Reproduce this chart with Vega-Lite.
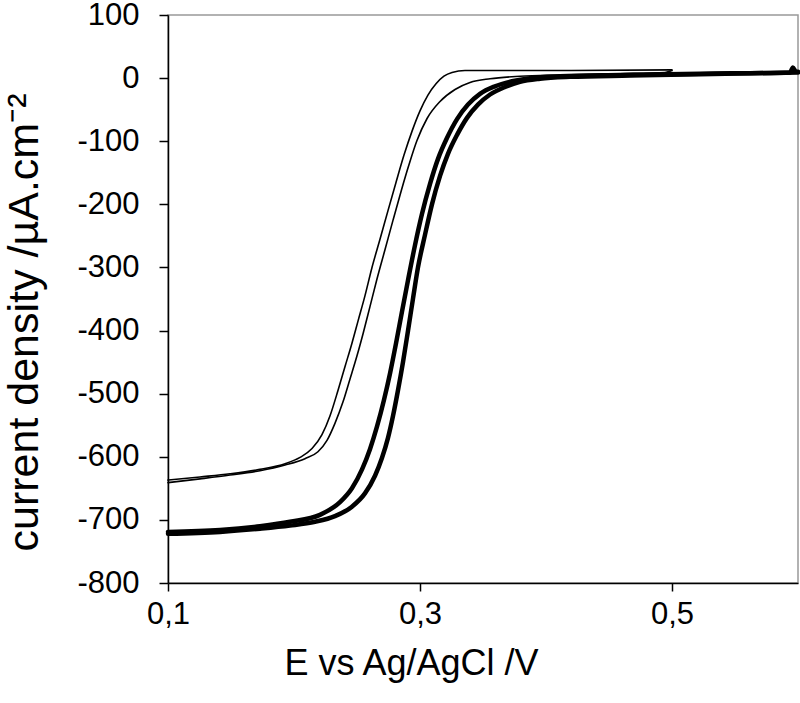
{
  "$schema": "https://vega.github.io/schema/vega-lite/v6.json",
  "width": 630,
  "height": 568,
  "autosize": {"type": "none"},
  "padding": {"left": 168, "top": 15, "right": 2, "bottom": 120},
  "background": "white",
  "config": {
    "view": {"stroke": "#999999", "strokeWidth": 1.5},
    "font": "Liberation Sans"
  },
  "datasets": {
    "curves": [
      {"electrode": "thin", "scan": "A", "E": 0.1000, "j": -637},
      {"electrode": "thin", "scan": "A", "E": 0.1254, "j": -632},
      {"electrode": "thin", "scan": "A", "E": 0.1492, "j": -627},
      {"electrode": "thin", "scan": "A", "E": 0.1730, "j": -620},
      {"electrode": "thin", "scan": "A", "E": 0.1929, "j": -611},
      {"electrode": "thin", "scan": "A", "E": 0.2048, "j": -601},
      {"electrode": "thin", "scan": "A", "E": 0.2143, "j": -587},
      {"electrode": "thin", "scan": "A", "E": 0.2222, "j": -565},
      {"electrode": "thin", "scan": "A", "E": 0.2286, "j": -535},
      {"electrode": "thin", "scan": "A", "E": 0.2349, "j": -495},
      {"electrode": "thin", "scan": "A", "E": 0.2405, "j": -457},
      {"electrode": "thin", "scan": "A", "E": 0.2460, "j": -420},
      {"electrode": "thin", "scan": "A", "E": 0.2508, "j": -385},
      {"electrode": "thin", "scan": "A", "E": 0.2563, "j": -345},
      {"electrode": "thin", "scan": "A", "E": 0.2619, "j": -300},
      {"electrode": "thin", "scan": "A", "E": 0.2683, "j": -255},
      {"electrode": "thin", "scan": "A", "E": 0.2746, "j": -210},
      {"electrode": "thin", "scan": "A", "E": 0.2810, "j": -165},
      {"electrode": "thin", "scan": "A", "E": 0.2873, "j": -122},
      {"electrode": "thin", "scan": "A", "E": 0.2937, "j": -84},
      {"electrode": "thin", "scan": "A", "E": 0.3000, "j": -52},
      {"electrode": "thin", "scan": "A", "E": 0.3063, "j": -27},
      {"electrode": "thin", "scan": "A", "E": 0.3127, "j": -9},
      {"electrode": "thin", "scan": "A", "E": 0.3190, "j": 3},
      {"electrode": "thin", "scan": "A", "E": 0.3254, "j": 9},
      {"electrode": "thin", "scan": "A", "E": 0.3357, "j": 12},
      {"electrode": "thin", "scan": "A", "E": 0.4200, "j": 12},
      {"electrode": "thin", "scan": "A", "E": 0.5000, "j": 13},

      {"electrode": "thin", "scan": "B", "E": 0.1000, "j": -641},
      {"electrode": "thin", "scan": "B", "E": 0.1254, "j": -635},
      {"electrode": "thin", "scan": "B", "E": 0.1492, "j": -629},
      {"electrode": "thin", "scan": "B", "E": 0.1730, "j": -622},
      {"electrode": "thin", "scan": "B", "E": 0.1929, "j": -613},
      {"electrode": "thin", "scan": "B", "E": 0.2087, "j": -603},
      {"electrode": "thin", "scan": "B", "E": 0.2190, "j": -592},
      {"electrode": "thin", "scan": "B", "E": 0.2262, "j": -574},
      {"electrode": "thin", "scan": "B", "E": 0.2325, "j": -547},
      {"electrode": "thin", "scan": "B", "E": 0.2389, "j": -513},
      {"electrode": "thin", "scan": "B", "E": 0.2444, "j": -477},
      {"electrode": "thin", "scan": "B", "E": 0.2500, "j": -440},
      {"electrode": "thin", "scan": "B", "E": 0.2548, "j": -405},
      {"electrode": "thin", "scan": "B", "E": 0.2603, "j": -362},
      {"electrode": "thin", "scan": "B", "E": 0.2659, "j": -318},
      {"electrode": "thin", "scan": "B", "E": 0.2722, "j": -272},
      {"electrode": "thin", "scan": "B", "E": 0.2786, "j": -225},
      {"electrode": "thin", "scan": "B", "E": 0.2849, "j": -180},
      {"electrode": "thin", "scan": "B", "E": 0.2913, "j": -137},
      {"electrode": "thin", "scan": "B", "E": 0.2976, "j": -99},
      {"electrode": "thin", "scan": "B", "E": 0.3056, "j": -64},
      {"electrode": "thin", "scan": "B", "E": 0.3159, "j": -37},
      {"electrode": "thin", "scan": "B", "E": 0.3278, "j": -18},
      {"electrode": "thin", "scan": "B", "E": 0.3397, "j": -7},
      {"electrode": "thin", "scan": "B", "E": 0.3556, "j": -1},
      {"electrode": "thin", "scan": "B", "E": 0.3794, "j": 3},
      {"electrode": "thin", "scan": "B", "E": 0.4111, "j": 5},
      {"electrode": "thin", "scan": "B", "E": 0.4587, "j": 7},
      {"electrode": "thin", "scan": "B", "E": 0.4944, "j": 9},
      {"electrode": "thin", "scan": "B", "E": 0.5000, "j": 12},

      {"electrode": "thick", "scan": "C", "E": 0.1000, "j": -719},
      {"electrode": "thick", "scan": "C", "E": 0.1413, "j": -716},
      {"electrode": "thick", "scan": "C", "E": 0.1730, "j": -710},
      {"electrode": "thick", "scan": "C", "E": 0.1968, "j": -703},
      {"electrode": "thick", "scan": "C", "E": 0.2206, "j": -692},
      {"electrode": "thick", "scan": "C", "E": 0.2365, "j": -672},
      {"electrode": "thick", "scan": "C", "E": 0.2460, "j": -650},
      {"electrode": "thick", "scan": "C", "E": 0.2540, "j": -620},
      {"electrode": "thick", "scan": "C", "E": 0.2603, "j": -588},
      {"electrode": "thick", "scan": "C", "E": 0.2659, "j": -552},
      {"electrode": "thick", "scan": "C", "E": 0.2714, "j": -510},
      {"electrode": "thick", "scan": "C", "E": 0.2762, "j": -468},
      {"electrode": "thick", "scan": "C", "E": 0.2810, "j": -420},
      {"electrode": "thick", "scan": "C", "E": 0.2857, "j": -370},
      {"electrode": "thick", "scan": "C", "E": 0.2905, "j": -320},
      {"electrode": "thick", "scan": "C", "E": 0.2960, "j": -265},
      {"electrode": "thick", "scan": "C", "E": 0.3016, "j": -215},
      {"electrode": "thick", "scan": "C", "E": 0.3079, "j": -168},
      {"electrode": "thick", "scan": "C", "E": 0.3143, "j": -128},
      {"electrode": "thick", "scan": "C", "E": 0.3214, "j": -95},
      {"electrode": "thick", "scan": "C", "E": 0.3294, "j": -65},
      {"electrode": "thick", "scan": "C", "E": 0.3381, "j": -42},
      {"electrode": "thick", "scan": "C", "E": 0.3476, "j": -25},
      {"electrode": "thick", "scan": "C", "E": 0.3595, "j": -13},
      {"electrode": "thick", "scan": "C", "E": 0.3730, "j": -5},
      {"electrode": "thick", "scan": "C", "E": 0.3873, "j": 0},
      {"electrode": "thick", "scan": "C", "E": 0.4111, "j": 3},
      {"electrode": "thick", "scan": "C", "E": 0.4587, "j": 5},
      {"electrode": "thick", "scan": "C", "E": 0.5222, "j": 7},
      {"electrode": "thick", "scan": "C", "E": 0.5937, "j": 9},
      {"electrode": "thick", "scan": "C", "E": 0.5960, "j": 17},
      {"electrode": "thick", "scan": "C", "E": 0.5984, "j": 10},
      {"electrode": "thick", "scan": "C", "E": 0.6000, "j": 10},

      {"electrode": "thick", "scan": "D", "E": 0.1000, "j": -722},
      {"electrode": "thick", "scan": "D", "E": 0.1413, "j": -719},
      {"electrode": "thick", "scan": "D", "E": 0.1730, "j": -714},
      {"electrode": "thick", "scan": "D", "E": 0.1968, "j": -709},
      {"electrode": "thick", "scan": "D", "E": 0.2167, "j": -703},
      {"electrode": "thick", "scan": "D", "E": 0.2325, "j": -694},
      {"electrode": "thick", "scan": "D", "E": 0.2460, "j": -679},
      {"electrode": "thick", "scan": "D", "E": 0.2563, "j": -658},
      {"electrode": "thick", "scan": "D", "E": 0.2643, "j": -630},
      {"electrode": "thick", "scan": "D", "E": 0.2698, "j": -602},
      {"electrode": "thick", "scan": "D", "E": 0.2746, "j": -570},
      {"electrode": "thick", "scan": "D", "E": 0.2786, "j": -535},
      {"electrode": "thick", "scan": "D", "E": 0.2825, "j": -495},
      {"electrode": "thick", "scan": "D", "E": 0.2865, "j": -450},
      {"electrode": "thick", "scan": "D", "E": 0.2905, "j": -400},
      {"electrode": "thick", "scan": "D", "E": 0.2944, "j": -350},
      {"electrode": "thick", "scan": "D", "E": 0.2984, "j": -300},
      {"electrode": "thick", "scan": "D", "E": 0.3040, "j": -248},
      {"electrode": "thick", "scan": "D", "E": 0.3095, "j": -200},
      {"electrode": "thick", "scan": "D", "E": 0.3159, "j": -155},
      {"electrode": "thick", "scan": "D", "E": 0.3222, "j": -120},
      {"electrode": "thick", "scan": "D", "E": 0.3294, "j": -90},
      {"electrode": "thick", "scan": "D", "E": 0.3373, "j": -63},
      {"electrode": "thick", "scan": "D", "E": 0.3460, "j": -42},
      {"electrode": "thick", "scan": "D", "E": 0.3556, "j": -26},
      {"electrode": "thick", "scan": "D", "E": 0.3675, "j": -14},
      {"electrode": "thick", "scan": "D", "E": 0.3794, "j": -6},
      {"electrode": "thick", "scan": "D", "E": 0.3952, "j": -1},
      {"electrode": "thick", "scan": "D", "E": 0.4190, "j": 2},
      {"electrode": "thick", "scan": "D", "E": 0.4667, "j": 4},
      {"electrode": "thick", "scan": "D", "E": 0.5222, "j": 6},
      {"electrode": "thick", "scan": "D", "E": 0.6000, "j": 9}
    ]
  },
  "data": {"name": "curves"},
  "mark": {"type": "line", "color": "black", "strokeJoin": "round", "strokeCap": "round", "interpolate": "monotone"},
  "encoding": {
    "x": {
      "field": "E",
      "type": "quantitative",
      "scale": {"domain": [0.1, 0.6], "nice": false, "zero": false},
      "axis": {
        "values": [0.1, 0.3, 0.5],
        "labelExpr": "replace(format(datum.value, '.1f'), '.', ',')",
        "grid": false,
        "domainColor": "black",
        "domainWidth": 1.5,
        "tickColor": "black",
        "tickWidth": 1.5,
        "tickSize": 8,
        "labelFont": "Liberation Sans",
        "labelFontSize": 31,
        "labelColor": "black",
        "labelPadding": 8,
        "labelFlush": false,
        "title": "E vs Ag/AgCl /V",
        "titleFont": "Liberation Sans",
        "titleFontSize": 36,
        "titleFontWeight": "normal",
        "titleColor": "black",
        "titleX": 243,
        "titleY": 63,
        "titleAlign": "center",
        "titleBaseline": "top"
      }
    },
    "y": {
      "field": "j",
      "type": "quantitative",
      "scale": {"domain": [-800, 100], "nice": false, "zero": false},
      "axis": {
        "values": [-800, -700, -600, -500, -400, -300, -200, -100, 0, 100],
        "labelExpr": "datum.value < 0 ? '-' + abs(datum.value) : '' + datum.value",
        "grid": false,
        "domainColor": "black",
        "domainWidth": 1.5,
        "tickColor": "black",
        "tickWidth": 1.5,
        "tickSize": 9,
        "labelFont": "Liberation Sans",
        "labelFontSize": 31,
        "labelColor": "black",
        "labelPadding": 20,
        "labelFlush": false,
        "title": "current density /µA.cm⁻²",
        "titleFont": "Liberation Sans",
        "titleFontSize": 43,
        "titleFontWeight": "normal",
        "titleColor": "black",
        "titleX": -122,
        "titleY": 307
      }
    },
    "detail": {"field": "scan", "type": "nominal"},
    "strokeWidth": {
      "field": "electrode",
      "type": "nominal",
      "scale": {"domain": ["thin", "thick"], "range": [1.6, 4.5]},
      "legend": null
    }
  }
}
